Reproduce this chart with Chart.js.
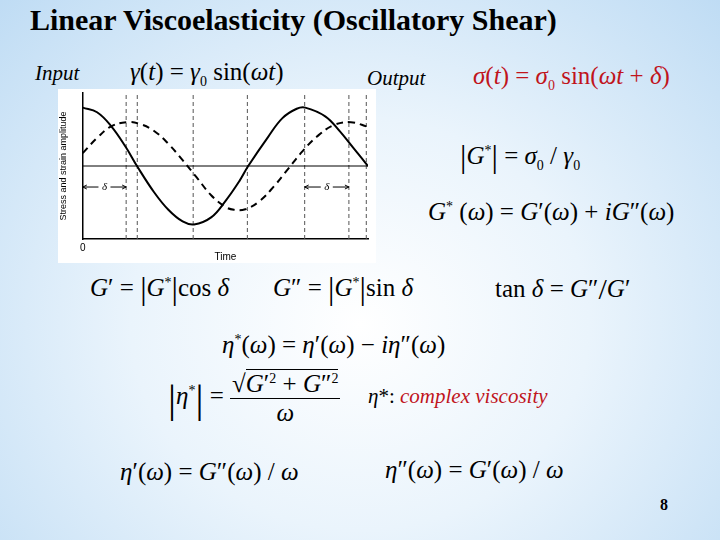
<!DOCTYPE html>
<html>
<head>
<meta charset="utf-8">
<script src="https://cdn.jsdelivr.net/npm/chart.js@4.4.0/dist/chart.umd.min.js"></script>
<style>
  body { margin: 0; }
  #slide {
    position: relative; width: 720px; height: 540px; overflow: hidden;
    background: radial-gradient(ellipse at 50% 60%, #ffffff 0%, #eaf4fc 45%, #bfdcf4 100%);
    font-family: "Liberation Serif", "DejaVu Serif", serif; color: #000;
  }
  .t { position: absolute; white-space: nowrap; font-size: 25px; }
  .i { font-style: italic; }
  .red { color: #c0141c; }
  #box { position: absolute; left: 58px; top: 89px; width: 318px; height: 174px; background: #fff; }
  .frac { display: inline-block; vertical-align: middle; text-align: center; }
  .frac > span { display: block; }
  sub, sup { font-size: 14px; }
</style>
</head>
<body>
<div id="slide">
  <div class="t" style="left:30px;top:3px;font-size:30px;font-weight:bold;">Linear Viscoelasticity (Oscillatory Shear)</div>
  <div class="t i" style="left:35px;top:61px;font-size:21px;">Input</div>
  <div class="t" style="left:130px;top:58px;"><i>γ</i>(<i>t</i>) = <i>γ</i><sub>0</sub> sin(<i>ωt</i>)</div>
  <div class="t i" style="left:367px;top:66px;font-size:21px;">Output</div>
  <div class="t red" style="left:473px;top:62px;"><i>σ</i>(<i>t</i>) = <i>σ</i><sub>0</sub> sin(<i>ωt</i> + <i>δ</i>)</div>
  <div class="t" style="left:460px;top:138px;"><span style="font-size:32px;vertical-align:-3px">|</span><i>G</i><sup>*</sup><span style="font-size:32px;vertical-align:-3px">|</span> = <i>σ</i><sub>0</sub> / <i>γ</i><sub>0</sub></div>
  <div class="t" style="left:428px;top:198px;"><i>G</i><sup>*</sup> (<i>ω</i>) = <i>G</i>′(<i>ω</i>) + <i>iG</i>″(<i>ω</i>)</div>
  <div class="t" style="left:90px;top:270px;"><i>G</i>′ = <span style="font-size:32px;vertical-align:-3px">|</span><i>G</i><sup>*</sup><span style="font-size:32px;vertical-align:-3px">|</span>cos <i>δ</i></div>
  <div class="t" style="left:273px;top:270px;"><i>G</i>″ = <span style="font-size:32px;vertical-align:-3px">|</span><i>G</i><sup>*</sup><span style="font-size:32px;vertical-align:-3px">|</span>sin <i>δ</i></div>
  <div class="t" style="left:495px;top:272px;">tan <i>δ</i> = <i>G</i>″<span style="font-size:30px;vertical-align:-2px">/</span><i>G</i>′</div>
  <div class="t" style="left:222px;top:331px;"><i>η</i><sup>*</sup>(<i>ω</i>) = <i>η</i>′(<i>ω</i>) − <i>iη</i>″(<i>ω</i>)</div>
  <div class="t" style="left:168px;top:370px;"><span style="font-size:40px;vertical-align:middle">|</span><i>η</i><sup>*</sup><span style="font-size:40px;vertical-align:middle">|</span> =
    <span class="frac"><span style="border-bottom:1px solid #000;padding:0 2px">√<span style="border-top:1px solid #000"><i>G</i>′<sup>2</sup> + <i>G</i>″<sup>2</sup></span></span><span><i>ω</i></span></span></div>
  <div class="t" style="left:368px;top:384px;font-size:21px;"><i>η</i>*: <span class="red i">complex viscosity</span></div>
  <div class="t" style="left:120px;top:458px;"><i>η</i>′(<i>ω</i>) = <i>G</i>″(<i>ω</i>) / <i>ω</i></div>
  <div class="t" style="left:385px;top:456px;"><i>η</i>″(<i>ω</i>) = <i>G</i>′(<i>ω</i>) / <i>ω</i></div>
  <div class="t" style="left:660px;top:496px;font-size:16px;font-weight:bold;">8</div>
  <div id="box"><canvas id="c" width="318" height="174"></canvas></div>
</div>
<script>
// values (time 0..100, amplitude in units of strain amplitude)
const strainX = [0, 5, 10, 15, 19, 25, 30, 35, 39, 45, 50, 55, 58, 65, 70, 75, 78, 85, 90, 95, 100];
const strainY = [1.0, 0.92, 0.68, 0.33, 0, -0.45, -0.75, -0.95, -1.0, -0.88, -0.6, -0.25, 0, 0.5, 0.82, 0.98, 1.0, 0.85, 0.6, 0.3, 0];
const stressX = [0, 5, 10, 15.5, 20, 25, 30, 35, 40, 45, 50, 53, 57, 62, 67, 72, 77, 82, 88, 94, 100];
const stressY = [0.22, 0.48, 0.68, 0.75, 0.72, 0.6, 0.38, 0.1, -0.2, -0.5, -0.7, -0.75, -0.74, -0.6, -0.35, -0.05, 0.25, 0.5, 0.7, 0.75, 0.67];
const guideX = [15.2, 19.1, 38.7, 57.7, 77.8, 93.3, 99.4];
const deltaSpans = [[0, 15.2], [77.8, 93.3]];
const deltaY = -0.36;

const pts = (xs, ys) => xs.map((x, i) => ({ x: x, y: ys[i] }));
const datasets = [
  { data: pts(strainX, strainY), borderColor: '#000', borderWidth: 2, tension: 0.4, pointRadius: 0 },
  { data: pts(stressX, stressY), borderColor: '#000', borderWidth: 2, borderDash: [7, 5], tension: 0.4, pointRadius: 0 },
  { data: [{ x: 0, y: 0 }, { x: 100, y: 0 }], borderColor: '#000', borderWidth: 1, pointRadius: 0 }
];
guideX.forEach(g => datasets.push({
  data: [{ x: g, y: -1.25 }, { x: g, y: 1.25 }],
  borderColor: '#555', borderWidth: 1, borderDash: [4, 3], pointRadius: 0
}));

// δ arrows with labels
const deltaPlugin = {
  id: 'delta',
  afterDatasetsDraw(chart) {
    const { ctx, scales: { x, y } } = chart;
    ctx.save();
    ctx.strokeStyle = '#000'; ctx.fillStyle = '#000'; ctx.lineWidth = 1;
    deltaSpans.forEach(([a, b]) => {
      const x1 = x.getPixelForValue(a), x2 = x.getPixelForValue(b), yy = y.getPixelForValue(deltaY);
      const mid = (x1 + x2) / 2;
      ctx.beginPath();
      ctx.moveTo(x1, yy); ctx.lineTo(mid - 6, yy);
      ctx.moveTo(mid + 6, yy); ctx.lineTo(x2, yy);
      ctx.moveTo(x1 + 4, yy - 2); ctx.lineTo(x1, yy); ctx.lineTo(x1 + 4, yy + 2);
      ctx.moveTo(x2 - 4, yy - 2); ctx.lineTo(x2, yy); ctx.lineTo(x2 - 4, yy + 2);
      ctx.stroke();
      ctx.font = 'italic 11px "Liberation Serif"';
      ctx.textAlign = 'center'; ctx.textBaseline = 'middle';
      ctx.fillText('δ', mid, yy);
    });
    ctx.font = '10px "Liberation Sans"';
    ctx.textAlign = 'center'; ctx.textBaseline = 'top';
    ctx.fillText('0', x.getPixelForValue(0), y.bottom + 4);
    ctx.restore();
  }
};

new Chart(document.getElementById('c'), {
  type: 'line',
  data: { datasets: datasets },
  plugins: [deltaPlugin],
  options: {
    responsive: false,
    animation: false,
    layout: { padding: { top: 4, right: 8, bottom: 0, left: 0 } },
    plugins: { legend: { display: false }, tooltip: { enabled: false } },
    scales: {
      x: {
        type: 'linear', min: 0, max: 100,
        grid: { display: false }, ticks: { display: false },
        border: { color: '#000', width: 1.5 },
        title: { display: true, text: 'Time', color: '#000', font: { family: 'Liberation Sans', size: 10 }, padding: { top: 4, bottom: 0 } }
      },
      y: {
        min: -1.25, max: 1.25,
        grid: { display: false }, ticks: { display: false },
        border: { color: '#000', width: 1.5 },
        title: { display: true, text: 'Stress and strain amplitude', color: '#000', font: { family: 'Liberation Sans', size: 9 }, padding: { top: 0, bottom: 6 } }
      }
    }
  }
});
</script>
</body>
</html>
